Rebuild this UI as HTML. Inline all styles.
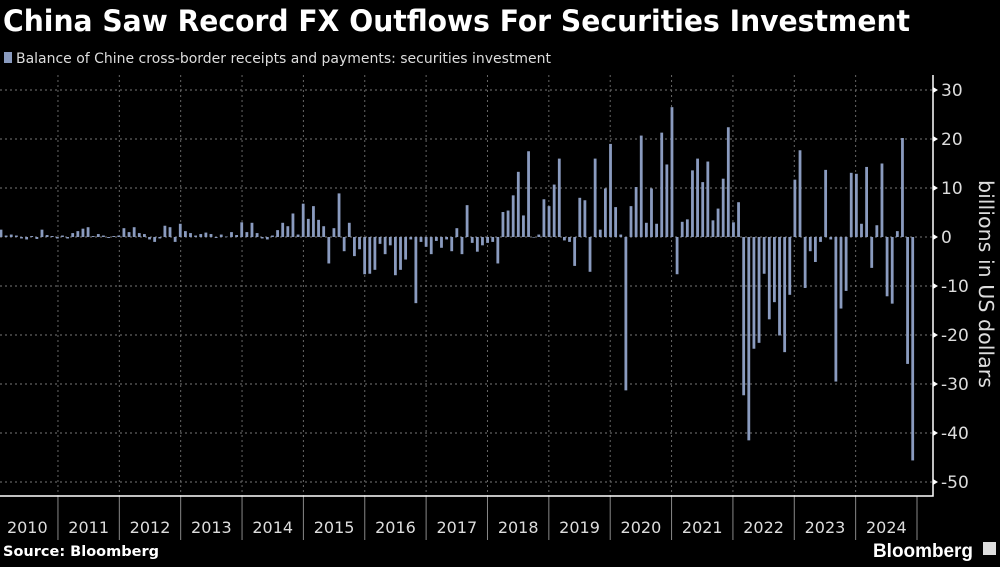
<!DOCTYPE html>
<html><head><meta charset="utf-8"><style>
body{margin:0;background:#000;width:1000px;height:562px;overflow:hidden;font-family:"Liberation Sans",sans-serif;color:#fff}
</style></head><body>
<svg width="1000" height="562" xmlns="http://www.w3.org/2000/svg">
<text x="3" y="31" font-size="29" font-weight="bold" fill="#fff" textLength="907" lengthAdjust="spacingAndGlyphs" font-family="DejaVu Sans, Liberation Sans, sans-serif">China Saw Record FX Outflows For Securities Investment</text>
<rect x="4" y="52" width="8" height="11" fill="#8a9bbf"/>
<text x="16" y="63" font-size="14" fill="#ddd" textLength="535" lengthAdjust="spacingAndGlyphs" font-family="DejaVu Sans, Liberation Sans, sans-serif">Balance of Chine cross-border receipts and payments: securities investment</text>
<g id="grid"></g>
<g id="bars"></g>
<g id="axis"></g>
<text transform="translate(979,284) rotate(90)" text-anchor="middle" font-size="20" fill="#ddd" textLength="208" lengthAdjust="spacingAndGlyphs" font-family="DejaVu Sans, Liberation Sans, sans-serif">billions in US dollars</text>
<text x="3" y="556" font-size="14" font-weight="bold" fill="#fff" textLength="156" lengthAdjust="spacingAndGlyphs" font-family="DejaVu Sans, Liberation Sans, sans-serif">Source: Bloomberg</text>
<text x="873" y="557" font-size="19" font-weight="bold" fill="#fff" textLength="100" lengthAdjust="spacingAndGlyphs">Bloomberg</text>
<rect x="983" y="542" width="13" height="13" fill="#ddd"/>
</svg>
<script>
const years=["2010","2011","2012","2013","2014","2015","2016","2017","2018","2019","2020","2021","2022","2023","2024"];
const yTicks=[30,20,10,0,-10,-20,-30,-40,-50];
const v2010=[1.5,0.3,0.5,0.3,-0.3,-0.5,0.2,-0.4,1.5,0.4,0.2,-0.3];
const v2011=[0.3,-0.3,0.8,1.2,1.7,2.0,0.2,0.6,0.3,-0.2,0.2,0.3];
const v2012=[1.8,1.0,2.0,0.8,0.6,-0.5,-1.0,-0.3,2.3,2.0,-1.0,2.7];
const v2013=[1.2,0.8,0.3,0.6,0.9,0.6,-0.2,0.5,0.1,1.0,0.4,3.0];
const v2014=[1.0,2.9,0.8,-0.3,-0.5,0.3,1.4,2.9,2.2,4.8,0.5,6.8];
const v2015=[3.7,6.3,3.5,2.2,-5.4,1.8,8.9,-2.9,2.9,-3.9,-2.5,-7.6];
const v2016=[-7.5,-6.7,-1.4,-3.5,-1.7,-7.8,-6.7,-4.6,-0.5,-13.5,-1,-2];
const v2017=[-3.5,-0.8,-2.2,-0.5,-2.9,1.8,-3.5,6.5,-1.2,-3,-1.7,-1.2];
const v2018=[-1,-5.4,5.1,5.4,8.5,13.3,4.4,17.5,0,0.5,7.7,6.3];
const v2019=[10.7,16,-0.7,-1,-5.9,8,7.5,-7.1,16,1.5,9.9,19];
const v2020=[6.1,0.5,-31.3,6.3,10.2,20.7,2.9,9.9,2.7,21.3,14.8,26.5];
const v2021=[-7.6,3.1,3.6,13.6,16,11.2,15.4,3.4,5.8,11.9,22.4,3];
const v2022=[7.1,-32.3,-41.5,-22.8,-21.6,-7.5,-16.8,-13.3,-20.1,-23.5,-11.8,11.7];
const v2023=[17.7,-10.4,-2.9,-5.1,-1,13.7,-0.5,-29.5,-14.6,-11,13.1,12.9];
const v2024=[2.7,14.3,-6.3,2.4,15,-12.1,-13.6,1.2,20.2,-25.9,-45.6];
const values=[].concat(v2010,v2011,v2012,v2013,v2014,v2015,v2016,v2017,v2018,v2019,v2020,v2021,v2022,v2023,v2024);
const NS="http://www.w3.org/2000/svg";
const y=v=>237-v*4.9;
const step=(912.7-1)/(values.length-1);
const x=i=>1+i*step;
const yx=i=>-3.4+i*61.36;
function mk(t,a,p){const e=document.createElementNS(NS,t);for(const k in a)e.setAttribute(k,a[k]);p.appendChild(e);return e;}
const grid=document.getElementById('grid'),bars=document.getElementById('bars'),axis=document.getElementById('axis');
yTicks.forEach(t=>{
 const l=mk('line',{x1:0,x2:933,y1:y(t),y2:y(t),stroke:'#777','stroke-dasharray':'2,3','stroke-width':1},grid);
 
 
 const tk=mk('path',{d:`M933 ${y(t)-3}L938 ${y(t)}L933 ${y(t)+3}Z`,fill:'#fff'},axis);
 
 
 const tx=mk('text',{x:941,y:y(t)+6,'font-size':17,fill:'#ddd','font-family':'DejaVu Sans, Liberation Sans, sans-serif'},axis);
 tx.textContent=t<0?'-'+(-t):String(t);
 
 
});
years.forEach((yr,i)=>{
 if(i>0){const s=mk('line',{x1:yx(i),x2:yx(i),y1:75,y2:496,stroke:'#666','stroke-dasharray':'2,3'},grid);
 
 }
 const s2=mk('line',{x1:yx(i+1),x2:yx(i+1),y1:496,y2:540,stroke:'#888'},axis);
 
 
 const t=mk('text',{x:yx(i)+30.7,y:533,'text-anchor':'middle','font-size':16,fill:'#ddd','font-family':'DejaVu Sans, Liberation Sans, sans-serif'},axis);
 t.textContent=yr;
 
 
});
const fr=mk('path',{d:'M933 75L933 496L0 496',fill:'none',stroke:'#fff','stroke-width':1.5},axis);


values.forEach((v,i)=>{
 const r=mk('rect',{x:x(i)-1.4,y:Math.min(y(v),y(0)),width:2.8,height:Math.max(Math.abs(y(v)-y(0)),0.6),fill:'#8a9bbf'},bars);
 
 
});
</script>
</body></html>
